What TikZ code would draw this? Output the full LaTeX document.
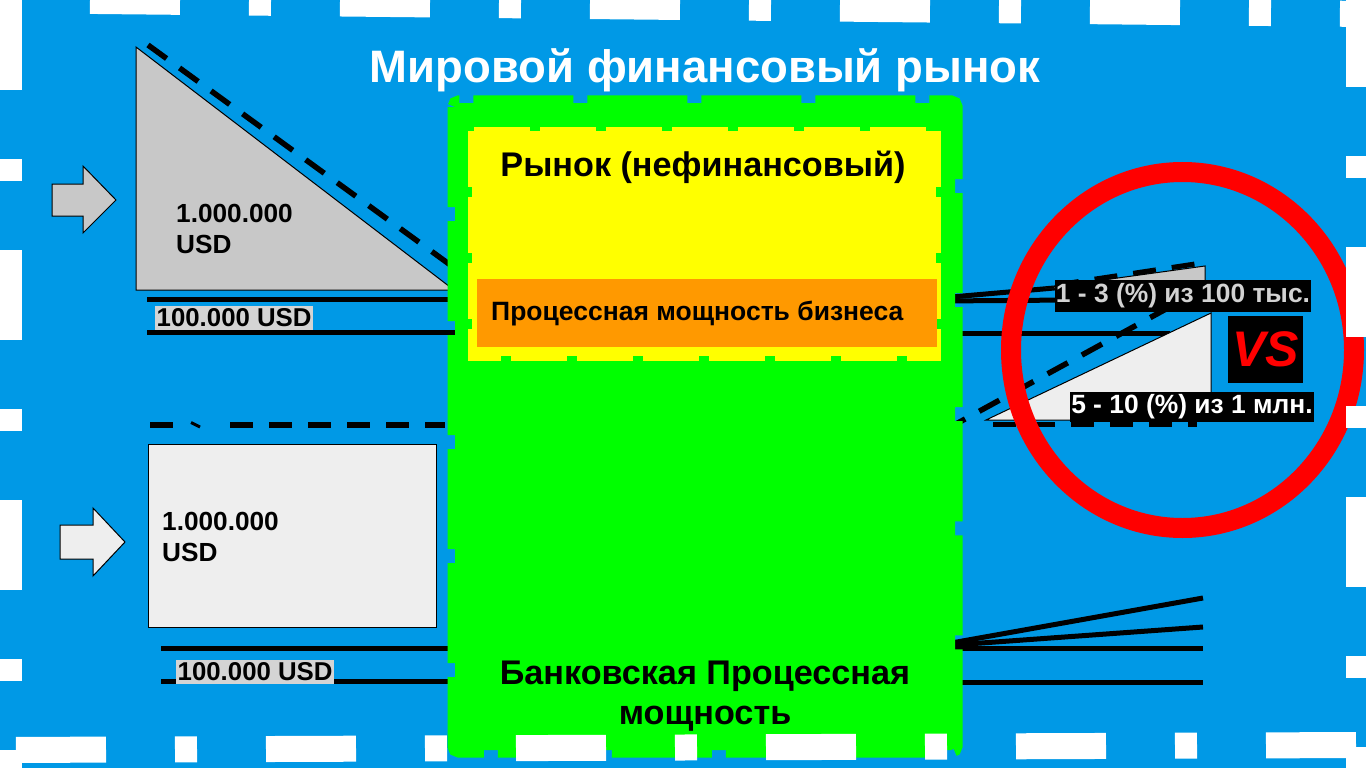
\documentclass[tikz,border=0pt]{standalone}
\usepackage{fontspec}
\setmainfont{Liberation Sans}
\definecolor{bgblue}{RGB}{0,153,230}
\definecolor{grayA}{RGB}{200,200,200}
\definecolor{grayL}{RGB}{212,212,212}
\definecolor{grayE}{RGB}{238,238,238}
\definecolor{lgray}{RGB}{210,210,210}
\definecolor{vgreen}{RGB}{0,255,0}
\definecolor{vyellow}{RGB}{255,255,0}
\definecolor{vorange}{RGB}{255,153,0}
\definecolor{vred}{RGB}{255,0,0}
\begin{document}
\begin{tikzpicture}[x=1pt,y=-1pt,
  every node/.style={inner sep=0pt},
  thickline/.style={line width=5pt},
  dashline/.style={line width=5.5pt, dash pattern=on 23pt off 16pt},
  outl/.style={draw=black, line width=1pt},
  frameline/.style={white, line width=26pt, dash pattern=on 90pt off 69pt on 22pt off 69pt},
  money/.style={font=\fontsize{26.2}{31}\selectfont\bfseries, align=left, anchor=north west},
  usdlabel/.style={font=\fontsize{25.8}{30}\selectfont\bfseries, fill=grayL, inner xsep=1.5pt, inner ysep=3pt, anchor=west},
  pctlabel/.style={font=\fontsize{26.4}{30}\selectfont\bfseries, fill=black, inner xsep=1pt, inner ysep=3pt},
  bigtext/.style={font=\fontsize{34.2}{40}\selectfont\bfseries, align=center}
]
\useasboundingbox (0,0) rectangle (1366,768);
\fill[bgblue] (0,0) rectangle (1366,768);

% ---------- left upper block ----------
\filldraw[fill=grayA, outl] (136,47) -- (136,290) -- (454,290) -- cycle;
\draw[dashline] (148,45) -- (460,272);
\filldraw[fill=grayA, outl] (52,184) -- (83,184) -- (83,166) -- (116,200) -- (83,233) -- (83,216) -- (52,216) -- cycle;
\node[money] (m1) at (176,204) {1.000.000\\USD};
\coordinate (l1a) at (147,299);
\coordinate (l1b) at (470,299);
\coordinate (l2a) at (147,332);
\coordinate (l2b) at (470,332);
\draw[thickline] (l1a) -- (l1b);
\draw[thickline] (l2a) -- (l2b);
\node[usdlabel] (u1) at (155,318) {100.000 USD};

% ---------- left lower block ----------
\coordinate (d0a) at (150,425);
\coordinate (d0b) at (173,425);
\coordinate (d1a) at (230,425);
\coordinate (d1b) at (445,425);
\draw[line width=5.5pt] (d0a) -- (d0b);
\draw[line width=3pt] (191,422.5) -- (200,427);
\draw[dashline] (d1a) -- (d1b);
\filldraw[fill=grayE, outl] (148,444) rectangle (436,627);
\filldraw[fill=grayE, outl] (60,525) -- (93,525) -- (93,508) -- (125,542) -- (93,576) -- (93,559) -- (60,559) -- cycle;
\node[money] (m2) at (162,512) {1.000.000\\USD};
\coordinate (l3a) at (161,648);
\coordinate (l3b) at (470,648);
\coordinate (l4a) at (161,681);
\coordinate (l4b) at (470,681);
\draw[thickline] (l3a) -- (l3b);
\draw[thickline] (l4a) -- (l4b);
\node[usdlabel] (u2) at (176,672) {100.000 USD};

% ---------- right lines ----------
\coordinate (r0) at (940,298);
\draw[thickline] (r0) -- (1100,284);
\draw[thickline] (940,301) -- (1205,299);
\draw[thickline] (940,333) -- (1170,333);
\coordinate (r1) at (940,645);
\draw[thickline] (r1) -- (1203,598);
\draw[thickline] (940,646) -- (1203,627);
\draw[thickline] (940,648) -- (1203,648);
\draw[thickline] (940,682) -- (1203,682);

% ---------- right triangles ----------
\filldraw[fill=grayA, outl] (1045,288) -- (1205,266) -- (1205,289) -- cycle;
\draw[dashline, line width=5pt] (1056,285) -- (1195,264);
\filldraw[fill=grayE, outl] (986,420) -- (1211,313) -- (1211,420) -- cycle;
\draw[dashline] (945,430) -- (1166,309);
\draw[dashline] (993,424.5) -- (1197,424.5);

% ---------- central boxes ----------
\fill[vgreen, rounded corners=4pt] (455,103) rectangle (955,750);
\draw[vgreen, line width=15pt, dash pattern=on 100pt off 14pt, rounded corners=4pt] (455,103) rectangle (955,750);
\fill[vyellow] (472,131) rectangle (936,356);
\draw[vyellow, line width=9pt, dash pattern=on 56pt off 10pt] (472,131) rectangle (936,356);
\fill[vorange] (477,279) rectangle (937,347);

\node[bigtext] (mkt) at (703,167) {Рынок (нефинансовый)};
\node[font=\fontsize{26.5}{30}\selectfont\bfseries, anchor=west] (proc) at (491,314) {Процессная мощность бизнеса};
\node[bigtext] (bank) at (705,696) {Банковская Процессная\\мощность};

% ---------- title ----------
\node[font=\fontsize{45.5}{54}\selectfont\bfseries, text=white] (title) at (705,70) {Мировой финансовый рынок};

% ---------- right labels ----------
\node[pctlabel, text=lgray, minimum width=256pt, minimum height=32pt] (p1) at (1183,296) {1 - 3 (\%) из 100 тыс.};
\node[pctlabel, text=white, minimum width=242pt, minimum height=30pt] (p2) at (1192,407) {5 - 10 (\%) из 1 млн.};
\node[fill=black, minimum width=75pt, minimum height=67pt, text=vred, font=\fontsize{50}{56}\selectfont\bfseries\itshape] (vs) at (1265.5,349.5) {VS};

% ---------- red circle ----------
\draw[vred, line width=20pt] (1182.5,350) ellipse [x radius=171.5, y radius=178];

% ---------- white dashed frame ----------
\draw[frameline, dash phase=160pt] (0,0) -- (1366,14);
\draw[frameline, dash phase=234pt] (0,750) -- (1366,745);
\draw[frameline, dash phase=0pt] (9,0) -- (9,768);
\draw[frameline, dash phase=3pt] (1359,0) -- (1359,768);
\end{tikzpicture}
\end{document}
